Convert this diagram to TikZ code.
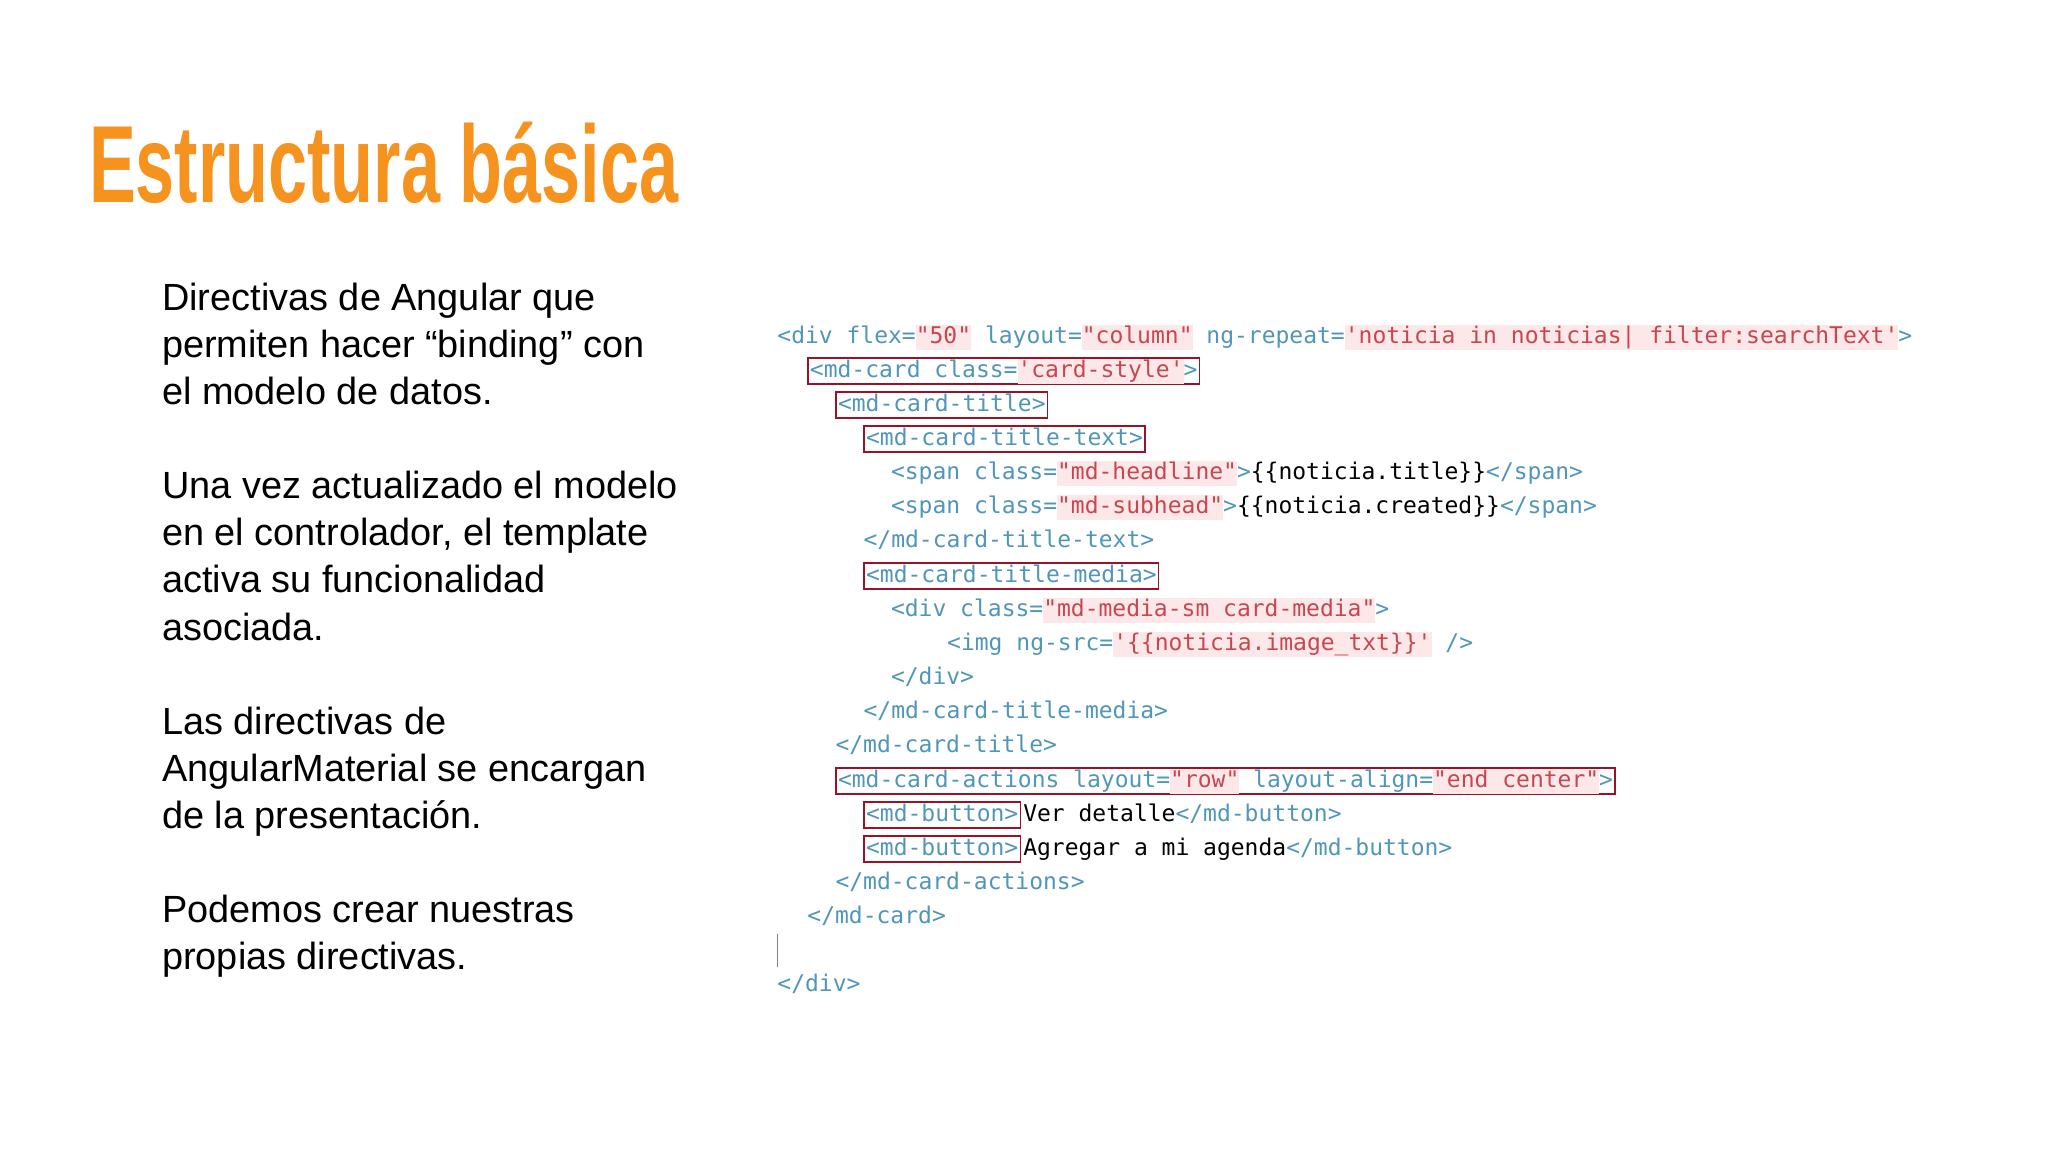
\documentclass[tikz,border=0pt]{standalone}
\usepackage{fontspec}
\setmainfont{Liberation Sans}
\newfontfamily\titlefont{Liberation Sans}[FakeStretch=0.64]
\newfontfamily\codefont{DejaVu Sans Mono}
\definecolor{orangeT}{RGB}{246,146,30}
\definecolor{tagc}{RGB}{80,150,185}
\definecolor{valc}{RGB}{200,70,80}
\definecolor{pinkbg}{RGB}{252,232,232}
\definecolor{boxc}{RGB}{150,20,40}
\newlength\vw
\newcommand\Tg[1]{\textcolor{tagc}{#1}}
\newcommand\Vl[1]{\settowidth\vw{#1}\makebox[0pt][l]{\color{pinkbg}\rule[-5pt]{\vw}{19pt}}\textcolor{valc}{#1}}
\newcommand\dq{\textquotedbl}
\newcommand\sq{\textquotesingle}
\begin{document}
\begin{tikzpicture}[x=1pt,y=-1pt,
  code/.style={anchor=base west,inner sep=0pt,font=\codefont\fontsize{17.6}{20}\selectfont},
  tagbox/.style={code,draw=boxc,line width=1.2pt,inner xsep=1.5pt,inner ysep=0pt,text depth=5pt,text height=15pt},
  body/.style={anchor=base west,inner sep=0pt,align=left,font=\fontsize{29}{36}\selectfont}]
\useasboundingbox[fill=white] (0,0) rectangle (1568,882);
\node[anchor=base west,inner sep=0pt,text=orangeT,font=\titlefont\bfseries\fontsize{84}{90}\selectfont] (title) at (68,155) {Estructura básica};
\node[body] (p1) at (124,310) {Directivas de Angular que\\permiten hacer “binding” con\\el modelo de datos.};
\node[body] (p2) at (124,490) {Una vez actualizado el modelo\\en el controlador, el template\\activa su funcionalidad\\asociada.};
\node[body] (p3) at (124,634) {Las directivas de\\AngularMaterial se encargan\\de la presentación.};
\node[body] (p4) at (124,742) {Podemos crear nuestras\\propias directivas.};
% code
\node[code] (l1) at (595,263) {\Tg{<div}\ \Tg{flex=}\Vl{\dq50\dq}\ \Tg{layout=}\Vl{\dq column\dq}\ \Tg{ng-repeat=}\Vl{\sq noticia in noticias| filter:searchText\sq}\Tg{>}};
\node[tagbox] (l2) at (618,289) {\Tg{<md-card}\ \Tg{class=}\Vl{\sq card-style\sq}\Tg{>}};
\node[tagbox] (l3) at (639.5,315) {\Tg{<md-card-title>}};
\node[tagbox] (l4) at (661,341) {\Tg{<md-card-title-text>}};
\node[code] (l5) at (682,367) {\Tg{<span}\ \Tg{class=}\Vl{\dq md-headline\dq}\Tg{>}\{\{noticia.title\}\}\Tg{</span>}};
\node[code] (l6) at (682,393) {\Tg{<span}\ \Tg{class=}\Vl{\dq md-subhead\dq}\Tg{>}\{\{noticia.created\}\}\Tg{</span>}};
\node[code] (l7) at (661,419) {\Tg{</md-card-title-text>}};
\node[tagbox] (l8) at (661,446) {\Tg{<md-card-title-media>}};
\node[code] (l9) at (682,472) {\Tg{<div}\ \Tg{class=}\Vl{\dq md-media-sm card-media\dq}\Tg{>}};
\node[code] (l10) at (725,498) {\Tg{<img}\ \Tg{ng-src=}\Vl{\sq\{\{noticia.image\_txt\}\}\sq}\ \Tg{/>}};
\node[code] (l11) at (682,524) {\Tg{</div>}};
\node[code] (l12) at (661,550) {\Tg{</md-card-title-media>}};
\node[code] (l13) at (639.5,576) {\Tg{</md-card-title>}};
\node[tagbox] (l14) at (639.5,603) {\Tg{<md-card-actions}\ \Tg{layout=}\Vl{\dq row\dq}\ \Tg{layout-align=}\Vl{\dq end center\dq}\Tg{>}};
\node[tagbox] (b1) at (661,629) {\Tg{<md-button>}};
\node[code] (r1) at ([xshift=1.5pt]b1.base east) {Ver detalle\Tg{</md-button>}};
\node[tagbox] (b2) at (661,655) {\Tg{<md-button>}};
\node[code] (r2) at ([xshift=1.5pt]b2.base east) {Agregar a mi agenda\Tg{</md-button>}};
\node[code] (l17) at (639.5,681) {\Tg{</md-card-actions>}};
\node[code] (l18) at (618,707) {\Tg{</md-card>}};
\coordinate (c1) at (595,715);
\coordinate (c2) at (595,740);
\draw[gray,line width=0.8pt] (c1) -- (c2);
\node[code] (l20) at (595,759) {\Tg{</div>}};
\end{tikzpicture}
\end{document}
